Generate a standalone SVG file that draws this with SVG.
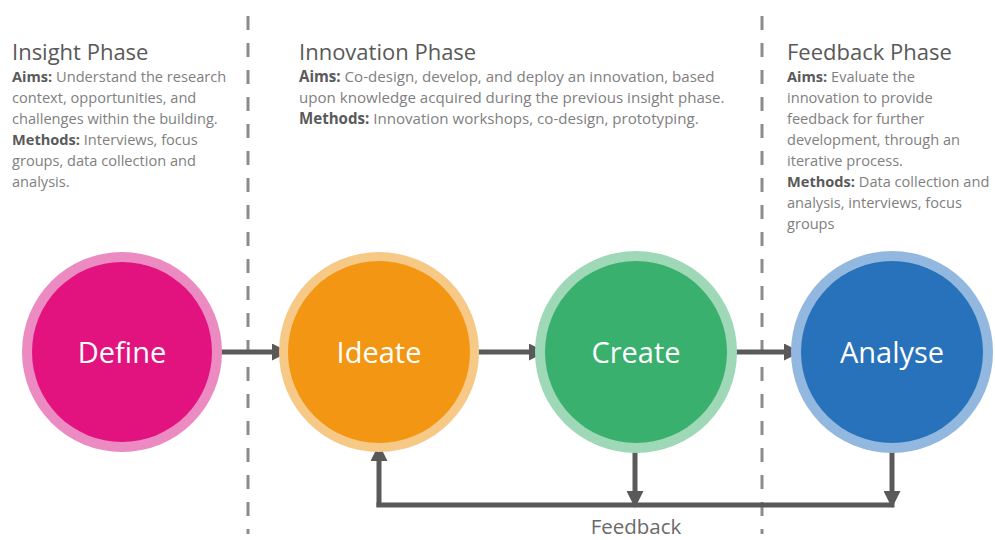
<svg xmlns="http://www.w3.org/2000/svg" width="995" height="540" viewBox="0 0 995 540">
<style>
.title{font-family:"Open Sans","Liberation Sans",sans-serif;font-size:22px;fill:#595959}
.body{font-family:"Open Sans","Liberation Sans",sans-serif;font-size:14.6px;fill:#808080}
.wide{font-size:15.1px}
.b{font-weight:bold;fill:#5a5a5a}
.lbl{font-family:"Open Sans","Liberation Sans",sans-serif;font-size:29px;fill:#ffffff;text-anchor:middle}
.conn{stroke:#595959;stroke-width:5;fill:none}
.dash{stroke:#8c8c8c;stroke-width:3;stroke-dasharray:14 13;fill:none}
</style>
<defs>
<marker id="ah" markerUnits="userSpaceOnUse" markerWidth="17" markerHeight="17" refX="6" refY="8.5" orient="auto">
<path d="M0,0 L17,8.5 L0,17 z" fill="#595959"/>
</marker>
</defs>
<rect width="995" height="540" fill="#ffffff"/>
<g id="dividers">
<line class="dash" x1="248" y1="16" x2="248" y2="534"/>
<line class="dash" x1="762" y1="16" x2="762" y2="534"/>
</g>
<g id="insight-text">
<text class="title" x="12" y="60">Insight Phase</text>
<text class="body" x="12" y="82"><tspan class="b">Aims:</tspan> Understand the research</text>
<text class="body" x="12" y="103">context, opportunities, and</text>
<text class="body" x="12" y="124">challenges within the building.</text>
<text class="body" x="12" y="145"><tspan class="b">Methods:</tspan> Interviews, focus</text>
<text class="body" x="12" y="166">groups, data collection and</text>
<text class="body" x="12" y="187">analysis.</text>
</g>
<g id="innovation-text">
<text class="title" x="299" y="60">Innovation Phase</text>
<text class="body wide" x="299" y="82"><tspan class="b">Aims:</tspan> Co-design, develop, and deploy an innovation, based</text>
<text class="body wide" x="299" y="103">upon knowledge acquired during the previous insight phase.</text>
<text class="body wide" x="299" y="124"><tspan class="b">Methods:</tspan> Innovation workshops, co-design, prototyping.</text>
</g>
<g id="feedback-text">
<text class="title" x="787" y="60">Feedback Phase</text>
<text class="body" x="787" y="82"><tspan class="b">Aims:</tspan> Evaluate the</text>
<text class="body" x="787" y="103">innovation to provide</text>
<text class="body" x="787" y="124">feedback for further</text>
<text class="body" x="787" y="145">development, through an</text>
<text class="body" x="787" y="166">iterative process.</text>
<text class="body" x="787" y="187"><tspan class="b">Methods:</tspan> Data collection and</text>
<text class="body" x="787" y="208">analysis, interviews, focus</text>
<text class="body" x="787" y="229">groups</text>
</g>
<g id="connectors">
<line class="conn" x1="212" y1="352" x2="278" y2="352" marker-end="url(#ah)"/>
<line class="conn" x1="470" y1="352" x2="535" y2="352" marker-end="url(#ah)"/>
<line class="conn" x1="727" y1="352" x2="790" y2="352" marker-end="url(#ah)"/>
<polyline class="conn" points="379,507 379,455" marker-end="url(#ah)"/>
<line class="conn" x1="376.5" y1="505" x2="894.5" y2="505"/>
<line class="conn" x1="635" y1="443" x2="635" y2="497" marker-end="url(#ah)"/>
<line class="conn" x1="892" y1="443" x2="892" y2="497" marker-end="url(#ah)"/>
<text x="636" y="534" text-anchor="middle" style="font-family:'Open Sans','Liberation Sans',sans-serif;font-size:20.5px;fill:#6a6a6a">Feedback</text>
</g>
<g id="define">
<circle cx="122" cy="352" r="100" fill="#EC8BC2"/>
<circle cx="122" cy="352" r="90" fill="#E2137F"/>
<text class="lbl" x="122" y="363">Define</text>
</g>
<g id="ideate">
<circle cx="379" cy="352" r="100" fill="#F7C987"/>
<circle cx="379" cy="352" r="91" fill="#F29613"/>
<text class="lbl" x="379" y="363">Ideate</text>
</g>
<g id="create">
<circle cx="636" cy="352" r="101" fill="#9ED8B7"/>
<circle cx="636" cy="352" r="91" fill="#39B06E"/>
<text class="lbl" x="636" y="363">Create</text>
</g>
<g id="analyse">
<circle cx="892" cy="352" r="101" fill="#93B8DF"/>
<circle cx="892" cy="352" r="91" fill="#2872BC"/>
<text class="lbl" x="892" y="363">Analyse</text>
</g>
</svg>
